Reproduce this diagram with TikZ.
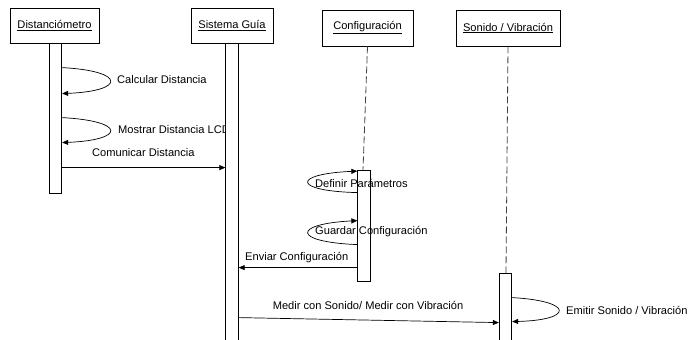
\documentclass[tikz,border=0pt]{standalone}
\usepackage{fontspec}
\setmainfont{Liberation Sans}
\usetikzlibrary{arrows.meta,calc}
\begin{document}
\begin{tikzpicture}[x=1pt,y=-1pt,
  font=\fontsize{11.1}{13}\selectfont,
  actor/.style={draw=black,fill=white,line width=0.8pt,inner sep=0pt},
  bar/.style={draw=black,fill=white,line width=0.8pt,minimum width=12.5pt,inner sep=0pt},
  life/.style={draw=black!75,line width=0.8pt,dash pattern=on 7pt off 3pt},
  msg/.style={draw=black,line width=0.7pt,-{Triangle[length=6pt,width=5pt]}},
  lbl/.style={inner sep=0pt,anchor=west}]
\useasboundingbox (0,0) rectangle (689,340);
% actor boxes
\node[actor,minimum width=89pt,minimum height=35pt] (a1) at (54.5,25.5) {\underline{Distanciómetro}};
\node[actor,minimum width=82pt,minimum height=35pt] (a2) at (232,25.5) {\underline{Sistema Guía}};
\node[actor,minimum width=91pt,minimum height=36pt] (a3) at (367.5,28) {\underline{Configuración}};
\node[actor,minimum width=104pt,minimum height=36pt] (a4) at (508,28) {\underline{Sonido / Vibración}};
% labels hidden partly by bars
\node[lbl] (t1) at (117,80) {Calcular Distancia};
\node[lbl] (t2) at (118,130) {Mostrar Distancia LCD};
\node[lbl] (t3) at (92,153) {Comunicar Distancia};
\node[lbl] (t6) at (245,258) {Enviar Configuración};
\node (t7) at (368,305) {Medir con Sonido/ Medir con Vibración};
\node[lbl] (t8) at (566,310) {Emitir Sonido / Vibración};
% lifelines
\coordinate (l3) at (363,170);
\coordinate (l4) at (506,273);
\draw[life] (a3.south) -- (l3);
\draw[life] (a4.south) -- (l4);
% activation bars
\node[bar,minimum height=150pt] (b1) at (55.5,118) {};
\node[bar,minimum height=302pt] (b2) at (232,194) {};
\node[bar,minimum height=111pt] (b3) at (364,225.5) {};
\node[bar,minimum height=72pt] (b4) at (505.5,309) {};
% self messages on Distanciómetro
\coordinate (c1s) at ($(b1.north east)+(0,25)$);
\coordinate (c1e) at ($(b1.north east)+(0,51)$);
\draw[msg] (c1s) .. controls (126,71) and (126,91) .. (c1e);
\coordinate (c2s) at ($(b1.north east)+(0,75)$);
\coordinate (c2e) at ($(b1.north east)+(0,100)$);
\draw[msg] (c2s) .. controls (126,121) and (126,140) .. (c2e);
% Comunicar Distancia
\coordinate (c3s) at ($(b1.north east)+(0,125)$);
\coordinate (c3e) at ($(b2.north west)+(0,125)$);
\draw[msg] (c3s) -- (c3e);
% self messages on Configuración (left side)
\coordinate (c4s) at ($(b3.north west)+(0,23)$);
\coordinate (c4e) at ($(b3.north west)+(0,1.5)$);
\draw[msg] (c4s) .. controls (292,191) and (292,174) .. (c4e);
\coordinate (c5s) at ($(b3.north west)+(0,75)$);
\coordinate (c5e) at ($(b3.north west)+(0,51)$);
\draw[msg] (c5s) .. controls (292,242) and (292,224) .. (c5e);
\node[lbl] (t4) at (315,183) {Definir Parámetros};
\node[lbl] (t5) at (315,232) {Guardar Configuración};
% Enviar Configuración
\coordinate (c6s) at ($(b3.north west)+(0,98)$);
\coordinate (c6e) at ($(b2.north east)+(0,225)$);
\draw[msg] (c6s) -- (c6e);
% Medir
\coordinate (c7s) at ($(b2.north east)+(0,275)$);
\coordinate (c7e) at ($(b4.north west)+(0,50)$);
\draw[msg] (c7s) -- (c7e);
% Emitir
\coordinate (c8s) at ($(b4.north east)+(0,25)$);
\coordinate (c8e) at ($(b4.north east)+(0,49)$);
\draw[msg] (c8s) .. controls (574,301) and (574,320) .. (c8e);
\end{tikzpicture}
\end{document}
